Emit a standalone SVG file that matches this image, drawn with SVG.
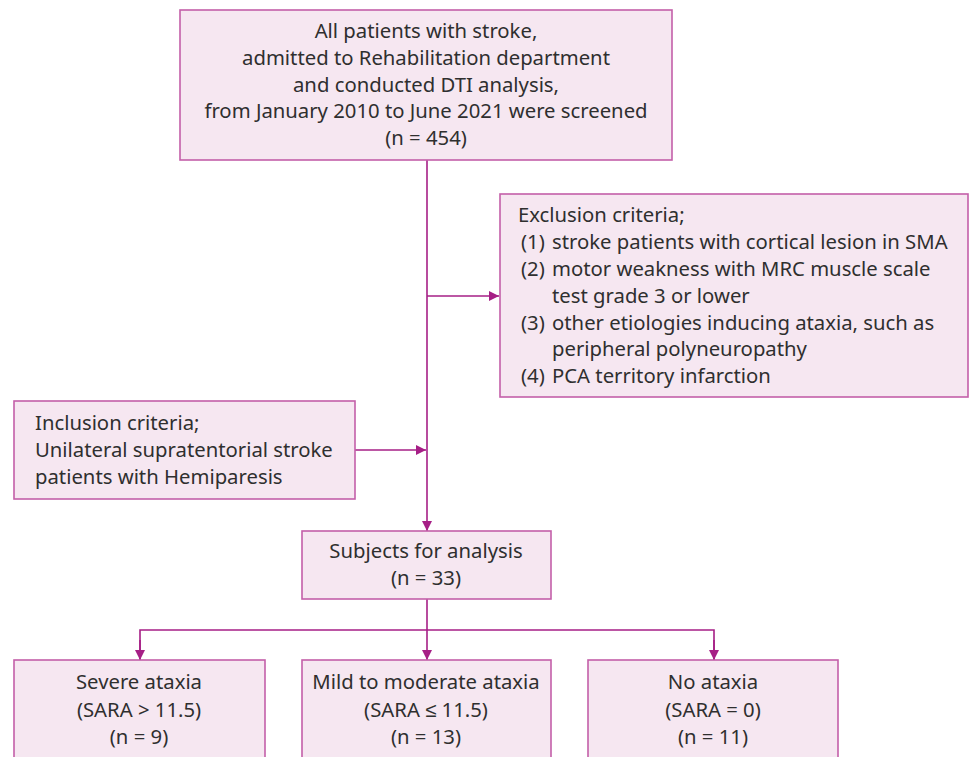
<svg xmlns="http://www.w3.org/2000/svg" width="973" height="757" viewBox="0 0 973 757">
<defs>
<style>
.box{fill:#f6e7f1;stroke:#c45fa9;stroke-width:1.6}
.t{font-family:"Noto Sans",sans-serif;font-size:20.3px;fill:#2f2f2f}
.c{text-anchor:middle}
.ln{stroke:#a61f86;stroke-width:1.6;fill:none}
</style>
<marker id="ah" viewBox="0 0 10 10" refX="10" refY="5" markerWidth="10" markerHeight="10" markerUnits="userSpaceOnUse" orient="auto">
<path d="M0,0 L10,5 L0,10 z" fill="#a61f86"/>
</marker>
</defs>
<rect width="973" height="757" fill="#ffffff"/>
<g id="connectors">
<line class="ln" x1="427" y1="160" x2="427" y2="531" marker-end="url(#ah)"/>
<line class="ln" x1="427" y1="296" x2="499" y2="296" marker-end="url(#ah)"/>
<line class="ln" x1="355" y1="450" x2="426" y2="450" marker-end="url(#ah)"/>
<line class="ln" x1="427" y1="599" x2="427" y2="660" marker-end="url(#ah)"/>
<polyline class="ln" points="140,660 140,630 714,630 714,660"/>
<line class="ln" x1="140" y1="640" x2="140" y2="660" marker-end="url(#ah)"/>
<line class="ln" x1="714" y1="640" x2="714" y2="660" marker-end="url(#ah)"/>
</g>
<g id="screened">
<rect class="box" x="180" y="10" width="492" height="150"/>
<text class="t c" x="426" y="38">All patients with stroke,</text>
<text class="t c" x="426" y="65">admitted to Rehabilitation department</text>
<text class="t c" x="426" y="92">and conducted DTI analysis,</text>
<text class="t c" x="426" y="118">from January 2010 to June 2021 were screened</text>
<text class="t c" x="426" y="145">(n = 454)</text>
</g>
<g id="exclusion">
<rect class="box" x="500" y="194" width="468" height="203"/>
<text class="t" x="518" y="222">Exclusion criteria;</text>
<text class="t" x="521" y="249">(1)</text><text class="t" x="552" y="249">stroke patients with cortical lesion in SMA</text>
<text class="t" x="521" y="276">(2)</text><text class="t" x="552" y="276">motor weakness with MRC muscle scale</text>
<text class="t" x="552" y="303">test grade 3 or lower</text>
<text class="t" x="521" y="330">(3)</text><text class="t" x="552" y="330">other etiologies inducing ataxia, such as</text>
<text class="t" x="552" y="356">peripheral polyneuropathy</text>
<text class="t" x="521" y="383">(4)</text><text class="t" x="552" y="383">PCA territory infarction</text>
</g>
<g id="inclusion">
<rect class="box" x="14" y="401" width="341" height="98"/>
<text class="t" x="35" y="430">Inclusion criteria;</text>
<text class="t" x="35" y="457">Unilateral supratentorial stroke</text>
<text class="t" x="35" y="484">patients with Hemiparesis</text>
</g>
<g id="subjects">
<rect class="box" x="302" y="531" width="249" height="68"/>
<text class="t c" x="426" y="558">Subjects for analysis</text>
<text class="t c" x="426" y="585">(n = 33)</text>
</g>
<g id="severe">
<rect class="box" x="14" y="660" width="251" height="110"/>
<text class="t c" x="139" y="689">Severe ataxia</text>
<text class="t c" x="139" y="717">(SARA &gt; 11.5)</text>
<text class="t c" x="139" y="744">(n = 9)</text>
</g>
<g id="mild">
<rect class="box" x="302" y="660" width="249" height="110"/>
<text class="t c" x="426" y="689">Mild to moderate ataxia</text>
<text class="t c" x="426" y="717">(SARA ≤ 11.5)</text>
<text class="t c" x="426" y="744">(n = 13)</text>
</g>
<g id="none">
<rect class="box" x="588" y="660" width="250" height="110"/>
<text class="t c" x="713" y="689">No ataxia</text>
<text class="t c" x="713" y="717">(SARA = 0)</text>
<text class="t c" x="713" y="744">(n = 11)</text>
</g>
</svg>
